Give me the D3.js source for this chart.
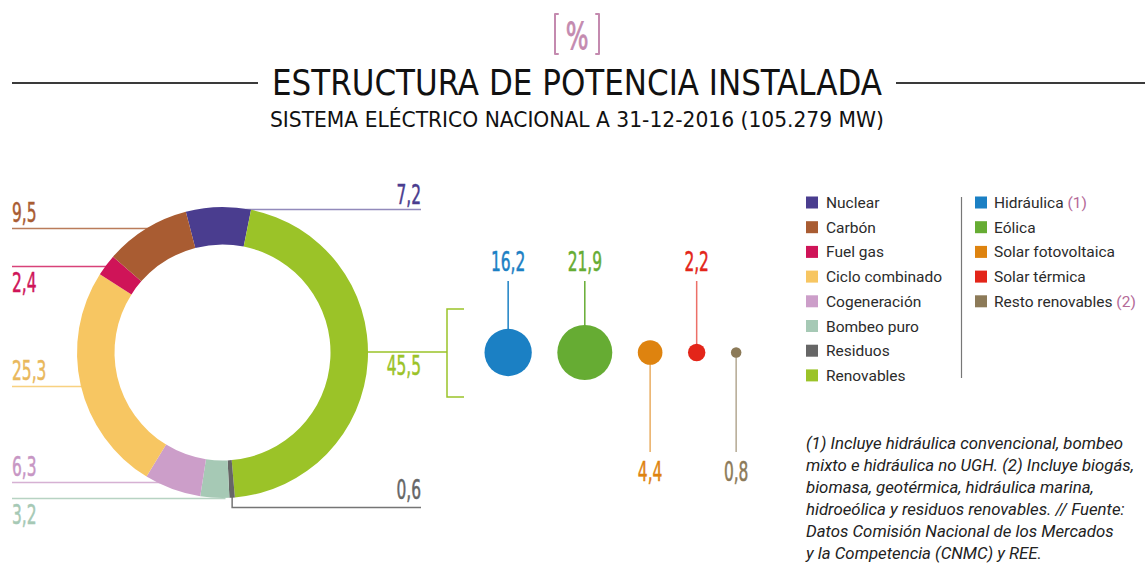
<!DOCTYPE html>
<html>
<head>
<meta charset="utf-8">
<script src="https://cdn.jsdelivr.net/npm/d3@7"></script>
<style>
  body { margin: 0; background: #fff; }
  svg { display: block; }
</style>
</head>
<body>
<div class="chart"></div>
<script>
var w = 1148,
    h = 569;

// donut: estructura de potencia instalada (%), clockwise from Nuclear
var donutCats = ["Nuclear", "Renovables", "Residuos", "Bombeo puro", "Cogeneración", "Ciclo combinado", "Fuel gas", "Carbón"];
var donutVals = [7.2, 45.5, 0.6, 3.2, 6.3, 25.3, 2.4, 9.5];
var donutColors = ["#4a3d8f", "#9bc328", "#666666", "#a6c9b5", "#cc9ec9", "#f7c662", "#cf1458", "#a95c32"];
var donutTextColors = ["#4a3d8f", "#9bc328", "#666666", "#a6c9b5", "#c796c4", "#e9b85c", "#cf1458", "#a95c32"];

// desglose de renovables (%)
var renewCats = ["Hidráulica", "Eólica", "Solar fotovoltaica", "Solar térmica", "Resto renovables"];
var renewVals = [16.2, 21.9, 4.4, 2.2, 0.8];
var renewColors = ["#1b80c4", "#66ac33", "#de830f", "#e32519", "#8c7a58"];

// legend
var legendLeft = ["Nuclear", "Carbón", "Fuel gas", "Ciclo combinado", "Cogeneración", "Bombeo puro", "Residuos", "Renovables"];
var legendRight = ["Hidráulica", "Eólica", "Solar fotovoltaica", "Solar térmica", "Resto renovables"];
var legendNotes = {"Hidráulica": "(1)", "Resto renovables": "(2)"};

var footnote = [
  "(1) Incluye hidráulica convencional, bombeo",
  "mixto e hidráulica no UGH. (2) Incluye biogás,",
  "biomasa, geotérmica, hidráulica marina,",
  "hidroeólica y residuos renovables. // Fuente:",
  "Datos Comisión Nacional de los Mercados",
  "y la Competencia (CNMC) y REE."
];

var numFont = "'Liberation Sans Narrow', 'DejaVu Sans Condensed', sans-serif";
var textFont = "Roboto, 'Noto Sans', sans-serif";
var pink = "#c48aaf";

var fmt = function(v) { return String(v).replace(".", ","); };
var colorOf = d3.scaleOrdinal().domain(donutCats.concat(renewCats)).range(donutColors.concat(renewColors));
var textColorOf = d3.scaleOrdinal().domain(donutCats).range(donutTextColors);

var svg = d3.select(".chart").append("svg")
  .attr("width", w)
  .attr("height", h);

function numLabel(x, y, txt, anchor, color) {
  svg.append("text")
    .attr("transform", "translate(" + x + "," + y + ") scale(0.66,1)")
    .attr("text-anchor", anchor)
    .style("font-family", numFont)
    .style("font-size", "26px")
    .style("fill", color)
    .style("stroke", color)
    .style("stroke-width", 0.5)
    .text(txt);
}

// ---- header ----
svg.append("path")
  .attr("d", "M558,14 H555 V54 H558 M596,14 H599 V54 H596")
  .style("fill", "none").style("stroke", pink).style("stroke-width", 2)
  .style("stroke-linecap", "round").style("stroke-linejoin", "round");
svg.append("text")
  .attr("transform", "translate(577,48.5) scale(0.72,1)")
  .attr("text-anchor", "middle")
  .style("font-family", numFont).style("font-size", "37px").style("fill", pink)
  .style("stroke", pink).style("stroke-width", 0.8)
  .text("%");

svg.append("line").attr("x1", 12).attr("x2", 258).attr("y1", 83).attr("y2", 83)
  .style("stroke", "#3a3a3a").style("stroke-width", 2);
svg.append("line").attr("x1", 896).attr("x2", 1145).attr("y1", 83).attr("y2", 83)
  .style("stroke", "#3a3a3a").style("stroke-width", 2);

svg.append("text")
  .attr("x", 272).attr("y", 95)
  .attr("textLength", 610).attr("lengthAdjust", "spacingAndGlyphs")
  .style("font-family", numFont).style("font-size", "35px").style("fill", "#111")
  .text("ESTRUCTURA DE POTENCIA INSTALADA");

svg.append("text")
  .attr("x", 270).attr("y", 127)
  .attr("textLength", 614).attr("lengthAdjust", "spacingAndGlyphs")
  .style("font-family", numFont).style("font-size", "22px").style("fill", "#111")
  .text("SISTEMA ELÉCTRICO NACIONAL A 31-12-2016 (105.279 MW)");

// ---- donut ----
var cx = 222.5, cy = 352.5, rOut = 145.5, rIn = 108;
var start = -14.6 * Math.PI / 180;

var pie = d3.pie().sort(null).startAngle(start).endAngle(start + 2 * Math.PI);
var arc = d3.arc().innerRadius(rIn).outerRadius(rOut);
var slices = pie(donutVals).map(function(d, i) { d.cat = donutCats[i]; return d; });

// label placement: side of the chart and whether the number sits above/below its leader
var labelPlace = {
  "Nuclear": {side: "right", pos: "above", dy: 2},
  "Renovables": {side: "bracket", pos: "below", dy: 0},
  "Residuos": {side: "elbow", pos: "above", dy: 0},
  "Bombeo puro": {side: "left", pos: "below", dy: 0},
  "Cogeneración": {side: "left", pos: "above", dy: -7},
  "Ciclo combinado": {side: "left", pos: "above", dy: 1},
  "Fuel gas": {side: "left", pos: "below", dy: 1},
  "Carbón": {side: "left", pos: "above", dy: -1}
};

var leftX = 12, rightX = 421, bracketX = 447;
var leaders = svg.append("g");

slices.forEach(function(d) {
  var p = labelPlace[d.cat];
  var mid = (d.startAngle + d.endAngle) / 2;
  var ly = Math.round(cy - rOut * Math.cos(mid) + p.dy) + 0.5;
  var col = colorOf(d.cat);
  var tcol = textColorOf(d.cat);
  var txt = fmt(d.value);
  if (p.side === "left") {
    var dy = ly - cy;
    var ex = cx - Math.sqrt(Math.max(0, rOut * rOut - dy * dy)) + 3;
    leaders.append("line").attr("x1", leftX).attr("x2", ex).attr("y1", ly).attr("y2", ly)
      .style("stroke", col).style("stroke-width", 1.5).style("opacity", 0.8);
    numLabel(leftX, p.pos === "above" ? ly - 7 : ly + 25, txt, "start", tcol);
  } else if (p.side === "right") {
    leaders.append("line").attr("x1", cx).attr("x2", rightX).attr("y1", ly).attr("y2", ly)
      .style("stroke", col).style("stroke-width", 1.5).style("opacity", 0.6);
    numLabel(rightX, ly - 6, txt, "end", tcol);
  } else if (p.side === "elbow") {
    var ex2 = cx + rOut * Math.sin(mid);
    leaders.append("path")
      .attr("d", "M" + ex2 + "," + (cy + rOut - 6) + " V507.5 H" + rightX)
      .style("fill", "none").style("stroke", col).style("stroke-width", 1.5).style("opacity", 0.9);
    numLabel(rightX, 499, txt, "end", tcol);
  } else {
    leaders.append("path")
      .attr("d", "M" + (cx + rOut - 2) + "," + (cy - 0.5) + " H" + bracketX + " M464," + (cy - 43.5) + " H" + bracketX + " V" + (cy + 44.5) + " H464")
      .style("fill", "none").style("stroke", col).style("stroke-width", 1.5);
    numLabel(rightX, cy + 22.5, txt, "end", tcol);
  }
});

svg.append("g")
  .attr("transform", "translate(" + cx + "," + cy + ")")
  .selectAll("path")
  .data(slices)
  .enter()
  .append("path")
  .attr("d", arc)
  .style("fill", function(d) { return colorOf(d.cat); });

// ---- renewables bubbles ----
var rScale = d3.scaleSqrt().domain([0, d3.max(renewVals)]).range([0, 27.5]);
var gap = 25.5, edge = 484.5, by = 352.5;
var bubbles = renewVals.map(function(v, i) {
  var r = rScale(v);
  var x = edge + r;
  edge = x + r + gap;
  return {cat: renewCats[i], value: v, r: r, x: x, up: i === 0 || i === 1 || i === 3};
});

bubbles.forEach(function(d) {
  var col = colorOf(d.cat);
  var y2 = d.up ? 281 : 452;
  svg.append("line")
    .attr("x1", d.x).attr("x2", d.x).attr("y1", by).attr("y2", y2)
    .style("stroke", col).style("stroke-width", 1.5)
    .style("opacity", d.r > 20 ? 1 : 0.65);
  numLabel(d.x, d.up ? 271 : 481, fmt(d.value), "middle", col);
});

svg.selectAll("circle.bubble")
  .data(bubbles)
  .enter()
  .append("circle")
  .attr("class", "bubble")
  .attr("cx", function(d) { return d.x; })
  .attr("cy", by)
  .attr("r", function(d) { return d.r; })
  .style("fill", function(d) { return colorOf(d.cat); });

// ---- legend ----
var rowY = d3.scaleLinear().domain([0, 1]).range([202.5, 227.2]);

function legendCol(items, sx, tx) {
  items.forEach(function(name, i) {
    var y = rowY(i);
    svg.append("rect")
      .attr("x", sx).attr("y", y - 6).attr("width", 12).attr("height", 12)
      .style("fill", colorOf(name));
    var t = svg.append("text")
      .attr("x", tx).attr("y", y + 5.5)
      .style("font-family", textFont).style("font-size", "15.5px").style("fill", "#2b2b2b");
    t.append("tspan").text(name);
    if (legendNotes[name]) {
      t.append("tspan").style("fill", "#b46a98").text(" " + legendNotes[name]);
    }
  });
}
legendCol(legendLeft, 806, 826);
legendCol(legendRight, 975, 994);

svg.append("line").attr("x1", 961.5).attr("x2", 961.5).attr("y1", 197).attr("y2", 378)
  .style("stroke", "#777").style("stroke-width", 1.2);

// ---- footnote ----
svg.append("g").selectAll("text")
  .data(footnote)
  .enter()
  .append("text")
  .attr("x", 806)
  .attr("y", function(d, i) { return 449 + i * 22; })
  .style("font-family", textFont).style("font-style", "italic")
  .style("font-size", "16.8px").style("fill", "#222")
  .text(function(d) { return d; });
</script>
</body>
</html>
